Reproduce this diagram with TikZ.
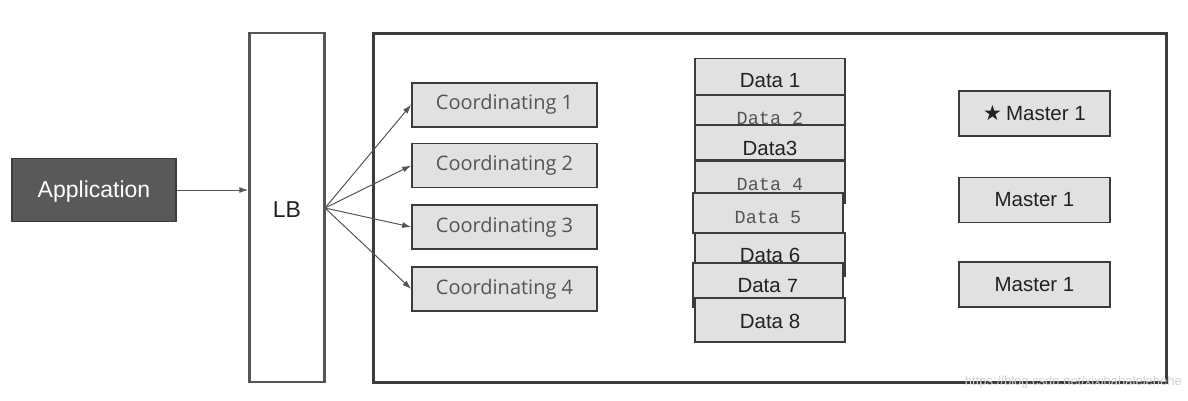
\documentclass[tikz,border=0pt]{standalone}
\usepackage{fontspec}
\setmainfont{Liberation Sans}
\newfontfamily\coordfont{Open Sans}
\newfontfamily\monofont{Liberation Mono}
\newfontfamily\symfont{DejaVu Sans}
\usetikzlibrary{arrows.meta}
\definecolor{boxfill}{HTML}{E1E1E1}
\definecolor{boxline}{HTML}{3C3C3C}
\definecolor{appfill}{HTML}{595959}
\definecolor{arrcol}{HTML}{555555}
\definecolor{txt}{HTML}{222222}
\definecolor{lighttxt}{HTML}{555555}
\tikzset{
  graybox/.style={draw=boxline, fill=boxfill, line width=1.6pt, inner sep=0pt, rectangle},
  coordbox/.style={graybox, minimum width=185pt, minimum height=44pt, font=\coordfont\fontsize{20}{24}\selectfont, text=lighttxt},
  databox/.style={graybox, minimum width=150pt},
  masterbox/.style={graybox, minimum width=151pt, minimum height=45pt, font=\fontsize{20.5}{24}\selectfont, text=txt},
  datatxt/.style={font=\fontsize{20.5}{24}\selectfont, text=txt, inner sep=0pt},
  datamono/.style={font=\monofont\fontsize{18.5}{22}\selectfont, text=lighttxt, inner sep=0pt},
  arr/.style={draw=arrcol, line width=1pt, -{Latex[length=9pt,width=6pt]}},
}
\begin{document}
\begin{tikzpicture}[x=1pt, y=-1pt]
\useasboundingbox (0,0) rectangle (1188,400);
% Application
\node[draw=boxline, fill=appfill, line width=1.6pt, minimum width=164pt, minimum height=63pt, inner sep=0pt] (app) at (94,190) {};
\node[text=white, font=\fontsize{23}{26}\selectfont, inner sep=0pt] (apptext) at (94,192) {Application};
% LB
\node[draw=arrcol, fill=white, line width=2.5pt, minimum width=75pt, minimum height=349pt, inner sep=0pt] (lb) at (287,207.5) {};
\node[font=\fontsize{23}{26}\selectfont, text=txt, inner sep=0pt] (lbtext) at (287,210) {LB};
% Big container
\node[draw=boxline, line width=3pt, minimum width=793pt, minimum height=349pt, inner sep=0pt] (cluster) at (769.5,207.5) {};
% Application -> LB
\draw[arr] (app.east) -- (lb.west |- app.east);
% Coordinating
\node[coordbox] (c1) at (504.5,104.7) {Coordinating 1};
\node[coordbox] (c2) at (504.5,165.5) {Coordinating 2};
\node[coordbox] (c3) at (504.5,227) {Coordinating 3};
\node[coordbox] (c4) at (504.5,289) {Coordinating 4};
\coordinate (fan) at (325,208);
\draw[arr] (fan) -- (c1.west);
\draw[arr] (fan) -- (c2.west);
\draw[arr] (fan) -- (c3.west);
\draw[arr] (fan) -- (c4.west);
% Data stack
\node[databox, minimum height=36pt] (d1) at (770,76.5) {};
\node[databox, minimum height=36pt] (d2) at (770,113) {};
\node[databox, minimum height=35pt] (d3) at (770,142.5) {};
\node[databox, minimum height=42pt] (d4) at (770,182) {};
\node[databox, minimum height=40pt] (d5) at (768,213) {};
\node[databox, minimum height=43pt] (d6) at (770,254.5) {};
\node[databox, minimum height=44pt] (d7) at (768,285) {};
\node[databox, minimum height=44pt] (d8) at (770,320) {};
\node[datatxt] (t1) at (770,81) {Data 1};
\node[datamono] (t2) at (770,118) {Data 2};
\node[datatxt] (t3) at (770,148) {Data3};
\node[datamono] (t4) at (770,184) {Data 4};
\node[datamono] (t5) at (768,217) {Data 5};
\node[datatxt] (t6) at (770,255) {Data 6};
\node[datatxt] (t7) at (768,286) {Data {\monofont\fontsize{20}{22}\selectfont 7}};
\node[datatxt] (t8) at (770,321) {Data 8};
% Masters
\node[masterbox] (m1) at (1034.5,113.5) {{\symfont\fontsize{21}{22}\selectfont\color{txt}★}\hspace{4pt}Master 1};
\node[masterbox] (m2) at (1034.5,200) {Master 1};
\node[masterbox] (m3) at (1034.5,284.2) {Master 1};
% watermark
\node[text=black!18, font=\fontsize{13}{15}\selectfont, inner sep=0pt, anchor=east] (wm) at (1182,382) {https://blog.csdn.net/xixihahalelehehe};
\end{tikzpicture}
\end{document}
